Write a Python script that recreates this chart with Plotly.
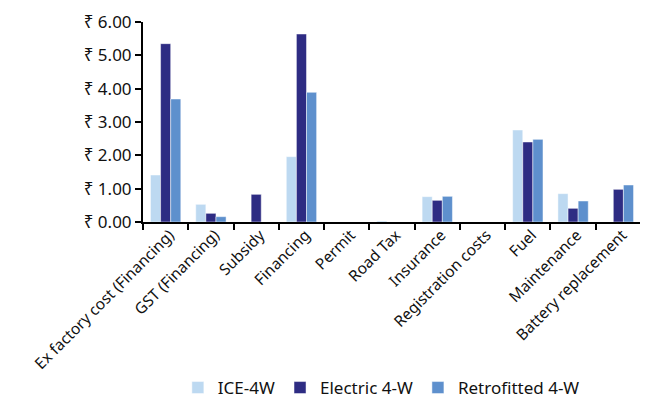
import plotly.graph_objects as go

categories = ['Ex factory cost (Financing)', 'GST (Financing)', 'Subsidy', 'Financing', 'Permit',
              'Road Tax', 'Insurance', 'Registration costs', 'Fuel', 'Maintenance', 'Battery replacement']
ice_4w = [1.41, 0.53, 0.0, 1.96, 0.0, 0.03, 0.76, 0.0, 2.76, 0.85, 0.0]
electric_4w = [5.35, 0.26, 0.83, 5.64, 0.0, 0.0, 0.65, 0.0, 2.40, 0.41, 0.98]
retrofitted_4w = [3.69, 0.16, 0.0, 3.89, 0.0, 0.0, 0.77, 0.0, 2.48, 0.63, 1.11]
y_ticks = [0, 1, 2, 3, 4, 5, 6]
y_labels = ['₹ %.2f' % v for v in y_ticks]

series = [('ICE-4W', ice_4w, '#BDD9F1'),
          ('Electric 4-W', electric_4w, '#2E2C83'),
          ('Retrofitted 4-W', retrofitted_4w, '#5E90CD')]

fig = go.Figure()
for name, vals, col in series:
    fig.add_trace(go.Bar(x=categories, y=vals, name=name, marker_color=col,
                         marker_line_width=0.6, marker_line_color='rgba(255,255,255,0.8)'))

# page body adds an 8px margin, so the figure is 640x391
fig.update_layout(
    width=640, height=391,
    margin=dict(l=135, r=7, t=14, b=177, autoexpand=False),
    plot_bgcolor='white', paper_bgcolor='white',
    font=dict(family='Noto Sans', size=14, color='#111'),
    barmode='group', bargap=0.33, bargroupgap=0,
    showlegend=True,
    legend=dict(orientation='h', x=0.07, xanchor='left', y=-0.74, yanchor='top',
                font=dict(size=17), itemwidth=30, traceorder='normal'),
)
fig.update_xaxes(showline=True, linecolor='black', linewidth=2, ticks='outside',
                 tickson='boundaries', ticklen=6, tickwidth=2, tickcolor='black',
                 tickangle=-45, tickfont=dict(size=15.5), automargin=False,
                 ticklabelshift=4, ticklabelstandoff=-4)
fig.update_yaxes(range=[0, 6], showline=True, linecolor='black', linewidth=2, ticks='outside',
                 ticklen=6, tickwidth=2, tickcolor='black', showgrid=False, zeroline=False,
                 tickvals=y_ticks, ticktext=y_labels, tickfont=dict(size=17), automargin=False)

fig.write_html('out.html')
